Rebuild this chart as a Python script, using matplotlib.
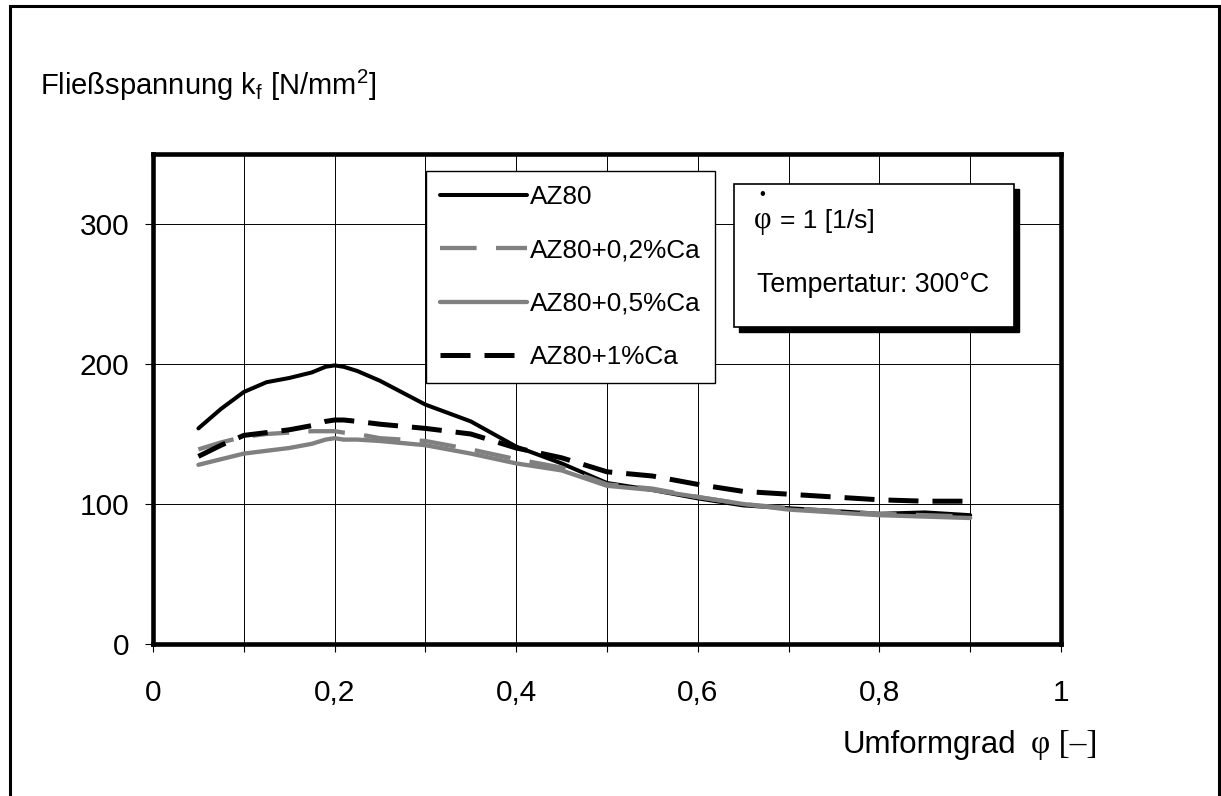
import matplotlib
matplotlib.use("Agg")
import matplotlib.pyplot as plt
from matplotlib.patches import Rectangle
from matplotlib.lines import Line2D

plt.rcParams['font.family'] = ['Liberation Sans', 'DejaVu Sans']
plt.rcParams['mathtext.fontset'] = 'custom'
plt.rcParams['mathtext.rm'] = 'Liberation Sans'
plt.rcParams['mathtext.it'] = 'Liberation Sans:italic'

# Umformgrad phi [-]
phi = [0.05, 0.075, 0.1, 0.125, 0.15, 0.175, 0.19, 0.2, 0.21, 0.225, 0.25, 0.3, 0.35,
       0.4, 0.45, 0.5, 0.55, 0.6, 0.65, 0.7, 0.75, 0.8, 0.85, 0.9]

# Fliessspannung kf [N/mm2]
az80 = [154, 168, 180, 187, 190, 194, 198, 199, 198, 195, 188, 171, 159,
        141, 129, 115, 110, 104, 99, 97, 95, 93, 94, 92]
az80_02ca = [139, 144, 148, 150, 151, 152, 152, 152, 151, 150, 147, 145, 139,
             132, 126, 114, 111, 105, 100, 97, 95, 93, 92, 91]
az80_05ca = [128, 132, 136, 138, 140, 143, 146, 147, 146, 146, 145, 142, 136,
             129, 124, 113, 110, 105, 100, 96, 94, 92, 91, 90]
az80_1ca = [134, 142, 149, 151, 153, 156, 159, 160, 160, 159, 157, 154, 150,
            140, 133, 123, 120, 114, 109, 107, 105, 103, 102, 102]

labels = ["AZ80", "AZ80+0,2%Ca", "AZ80+0,5%Ca", "AZ80+1%Ca"]
xticklabels = ["0", "0,2", "0,4", "0,6", "0,8", "1"]
yticks = [0, 100, 200, 300]

W, H = 1221, 796
fig = plt.figure(figsize=(W / 100, H / 100), dpi=100)
ax = fig.add_axes([153 / W, 1 - 644 / H, 908 / W, 490 / H])

gray = "#808080"
styles = [dict(color="black", lw=2.9, solid_capstyle="round", solid_joinstyle="round"),
          dict(color=gray, lw=3.1, dashes=(8.5, 4.5)),
          dict(color=gray, lw=3.1, solid_capstyle="round", solid_joinstyle="round"),
          dict(color="black", lw=3.6, dashes=(6, 2.8))]
for ys, st in zip([az80, az80_02ca, az80_05ca, az80_1ca], styles):
    ax.plot(phi, ys, **st)

ax.set_xlim(0, 1)
ax.set_ylim(0, 350)
ax.set_xticks([i / 10 for i in range(11)])
ax.set_xticklabels([xticklabels[i // 2] if i % 2 == 0 else "" for i in range(11)])
ax.set_yticks(yticks)
ax.tick_params(direction="out", length=6, width=0.8, labelsize=21.5, color="black")
ax.tick_params(axis="x", pad=19)
ax.tick_params(axis="y", pad=11)
for x in [i / 10 for i in range(1, 10)]:
    ax.axvline(x, color="black", lw=0.7, zorder=0)
for y in [100, 200, 300]:
    ax.axhline(y, color="black", lw=0.7, zorder=0)
for s in ax.spines.values():
    s.set_linewidth(3.3)

# legend
handles = [Line2D([], [], **st) for st in styles]
leg = fig.legend(handles, labels, loc="upper left",
                 bbox_to_anchor=(426 / W, 1 - 171 / H), fontsize=18.8,
                 frameon=True, fancybox=False, edgecolor="black",
                 handlelength=3.3, handletextpad=0.12, labelspacing=1.12,
                 borderpad=0.55, borderaxespad=0)
leg.get_frame().set_linewidth(1.0)
leg.get_frame().set_alpha(1)

# text box with shadow
bx, by, bw, bh = 734, 184, 280, 143
fig.patches.append(Rectangle(((bx + 5) / W, 1 - (by + bh + 5) / H), bw / W, bh / H,
                             transform=fig.transFigure, facecolor="black",
                             edgecolor="black", zorder=10))
fig.patches.append(Rectangle((bx / W, 1 - (by + bh) / H), bw / W, bh / H,
                             transform=fig.transFigure, facecolor="white",
                             edgecolor="black", lw=1.2, zorder=11))
fig.text(754 / W, 1 - 228 / H, "φ", fontsize=22, family=["Liberation Serif"],
         va="baseline", zorder=12)
fig.text(759 / W, 1 - 199 / H, "•", fontsize=12, va="baseline", zorder=12)
fig.text(780 / W, 1 - 228 / H, "= 1 [1/s]", fontsize=19, va="baseline", zorder=12)
fig.text(757 / W, 1 - 292 / H, "Tempertatur: 300°C", fontsize=19.3,
         va="baseline", zorder=12)

# axis titles
fig.text(40 / W, 1 - 95 / H, r"Fließspannung k$_\mathrm{f}$ [N/mm$^\mathrm{2}$]",
         fontsize=21, va="baseline")
fig.text(843 / W, 1 - 753 / H, "Umformgrad", fontsize=22.5, va="baseline")
fig.text(1031 / W, 1 - 753 / H, "φ [–]", fontsize=24,
         family=["Liberation Serif"], va="baseline")

# outer frame
fig.patches.append(Rectangle((9.5 / W, -0.02), (1219 - 9.5) / W, 0.02 + 790 / H,
                             transform=fig.transFigure, fill=False,
                             edgecolor="black", lw=2.2))

fig.savefig("out.png", dpi=100)
